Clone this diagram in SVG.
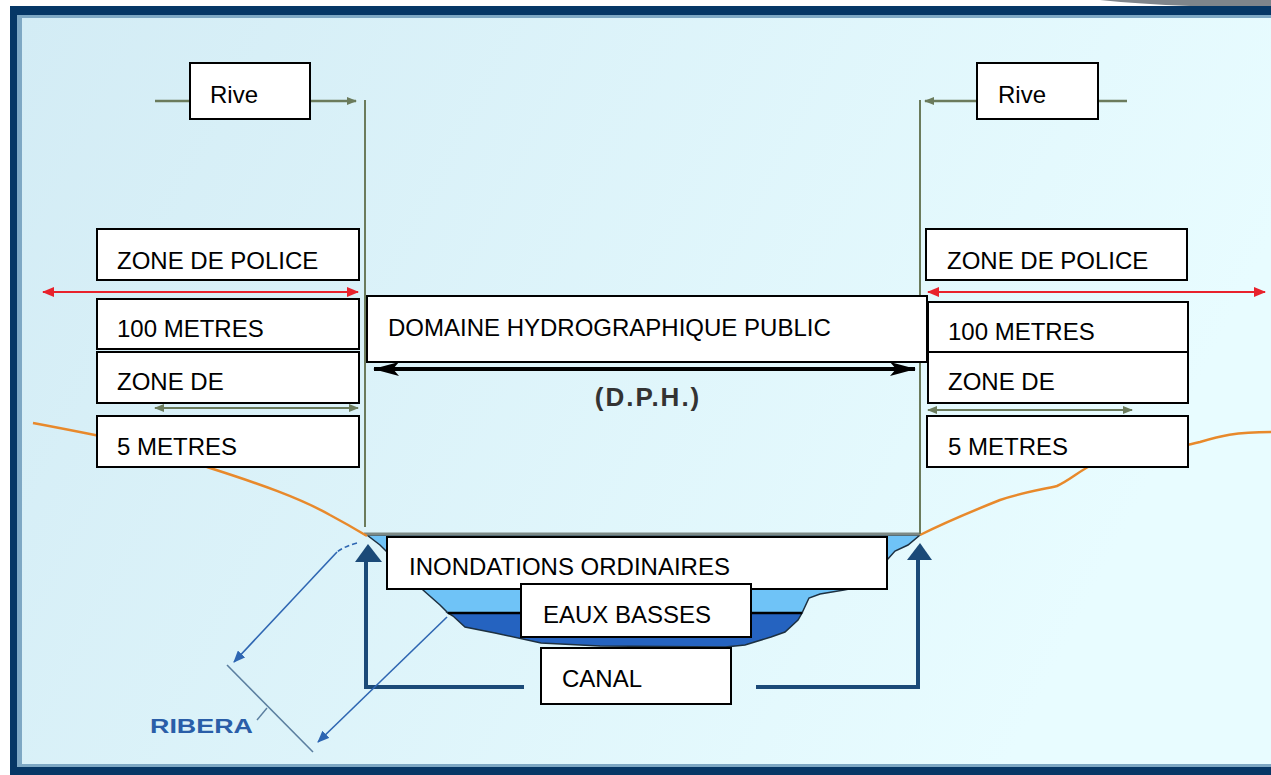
<svg xmlns="http://www.w3.org/2000/svg" width="1271" height="775" viewBox="0 0 1271 775">
<defs>
<linearGradient id="bg" x1="0" y1="0" x2="1" y2="0.3">
<stop offset="0" stop-color="#d3ecf5"/>
<stop offset="1" stop-color="#e8fcff"/>
</linearGradient>
<marker id="mRed" viewBox="0 0 12 10" refX="11" refY="5" markerWidth="12" markerHeight="10" markerUnits="userSpaceOnUse" orient="auto-start-reverse"><path d="M0,0 L12,5 L0,10 z" fill="#e8222c"/></marker>
<marker id="mOl" viewBox="0 0 10 8" refX="9" refY="4" markerWidth="10" markerHeight="8" markerUnits="userSpaceOnUse" orient="auto-start-reverse"><path d="M0,0 L10,4 L0,8 z" fill="#6b7b5c"/></marker>
<marker id="mBk" viewBox="0 0 26 14" refX="25" refY="7" markerWidth="26" markerHeight="14" markerUnits="userSpaceOnUse" orient="auto-start-reverse"><path d="M0,0 L26,7 L0,14 L6,7 z" fill="#000"/></marker>
<marker id="mBl" viewBox="0 0 12 10" refX="11" refY="5" markerWidth="12" markerHeight="10" markerUnits="userSpaceOnUse" orient="auto"><path d="M0,0 L12,5 L0,10 z" fill="#2e66b2"/></marker>
<style>
.box{fill:#fff;stroke:#000;stroke-width:2}
.lbl{font-family:"Liberation Sans",Arial,sans-serif;font-size:24px;fill:#000}
.ol{stroke:#6b7b5c;stroke-width:2.5;fill:none}
.red{stroke:#e8222c;stroke-width:2;fill:none}
.nv{stroke:#1b4a78;stroke-width:4;fill:none}
.bl{stroke:#2e66b2;stroke-width:1.6;fill:none}
.gr{stroke:#e8892b;stroke-width:2.5;fill:none;stroke-linejoin:round}
</style>
</defs>
<!-- frame -->
<rect x="0" y="0" width="1271" height="775" fill="#ffffff"/>
<path d="M1100,0 L1271,0 L1271,6 L1190,6 Q1140,4 1100,0 Z" fill="#7f858b"/>
<rect x="10" y="6" width="1261" height="769" fill="#063766"/>
<rect x="17" y="15" width="1254" height="752" fill="#7ea8c4"/>
<rect x="22" y="18" width="1249" height="746" fill="url(#bg)"/>

<!-- water -->
<g id="water">
<path d="M367,535 L920,535 L908,545 L895,551 L887,560 L870,585 L844,590 L820,594 L809,598 L802,613 L448,613 L440,605 L423,590 L400,565 L380,545 Z" fill="#6fc3f7" stroke="#1d3040" stroke-width="1.5"/>
<path d="M448,613 L802,613 L798,620 L785,632 L771,637 L745,645 L725,647 L600,646 L541,643 L495,633 L465,627 L453,616 Z" fill="#2563c0" stroke="#1d3040" stroke-width="1.5"/>
<line x1="448" y1="613" x2="802" y2="613" stroke="#000" stroke-width="2.5"/>
<line x1="364" y1="534" x2="921" y2="534" stroke="#7d8a86" stroke-width="3"/>
</g>

<!-- ground -->
<path class="gr" d="M33,423 C60,428 80,432 100,436 C150,447 180,458 210,468 C260,484 300,498 330,515 C345,523 357,530 367,536"/>
<path class="gr" d="M920,535 C950,520 975,510 1000,500 C1020,493 1040,490 1057,486 C1070,480 1078,472 1090,466 C1120,455 1160,452 1200,442 C1220,436 1235,432 1271,432"/>

<g id="connectors">
<polyline class="ol" points="155,101 190,101"/>
<line class="ol" x1="310" y1="101" x2="356" y2="101" marker-end="url(#mOl)"/>
<line x1="365" y1="100" x2="365" y2="527" stroke="#6b7b5c" stroke-width="2"/>
<line class="ol" x1="1098" y1="101" x2="1127" y2="101"/>
<line class="ol" x1="977" y1="101" x2="925" y2="101" marker-end="url(#mOl)"/>
<line x1="920" y1="100" x2="920" y2="534" stroke="#6b7b5c" stroke-width="2"/>
<line class="red" x1="43" y1="292" x2="358" y2="292" marker-start="url(#mRed)" marker-end="url(#mRed)"/>
<line class="red" x1="928" y1="292" x2="1265" y2="292" marker-start="url(#mRed)" marker-end="url(#mRed)"/>
<line x1="155" y1="408" x2="358" y2="408" stroke="#6b7b5c" stroke-width="2" marker-start="url(#mOl)" marker-end="url(#mOl)"/>
<line x1="928" y1="410" x2="1132" y2="410" stroke="#6b7b5c" stroke-width="2" marker-start="url(#mOl)" marker-end="url(#mOl)"/>
<line x1="374" y1="369" x2="915" y2="369" stroke="#000" stroke-width="4" marker-start="url(#mBk)" marker-end="url(#mBk)"/>
<polyline class="nv" points="524,687 366,687 366,552"/>
<polyline class="nv" points="756,687 918,687 918,552"/>
<path d="M368,544 L382,562 L355,562 Z" fill="#1b4a78"/>
<path d="M920,543 L932,560 L907,560 Z" fill="#1b4a78"/>
<path class="bl" d="M357,543 Q345,546 337,552" stroke-dasharray="5,3"/>
<line class="bl" x1="337" y1="552" x2="234" y2="662" marker-end="url(#mBl)"/>
<line class="bl" x1="447" y1="617" x2="318" y2="742" marker-end="url(#mBl)"/>
<line x1="227" y1="665" x2="313" y2="752" stroke="#5b7fa0" stroke-width="1.6"/>
<line x1="267" y1="708" x2="257" y2="720" stroke="#5b7fa0" stroke-width="1.4"/>
</g>
<text x="150" y="733" font-family="'Liberation Sans',Arial,sans-serif" font-weight="bold" font-size="21" fill="#2a5ea8" textLength="103" lengthAdjust="spacingAndGlyphs">RIBERA</text>
<text x="648" y="406" text-anchor="middle" font-family="'Liberation Sans',Arial,sans-serif" font-weight="bold" font-size="26" fill="#333" letter-spacing="2">(D.P.H.)</text>

<g id="rive-left"><rect class="box" x="190" y="63" width="120" height="56"/><text class="lbl" x="210" y="103">Rive</text></g>
<g id="rive-right"><rect class="box" x="977" y="63" width="121" height="56"/><text class="lbl" x="998" y="103">Rive</text></g>
<g id="police-left"><rect class="box" x="97" y="229" width="262" height="51"/><text class="lbl" x="117" y="269">ZONE DE POLICE</text></g>
<g id="m100-left"><rect class="box" x="97" y="299" width="262" height="50"/><text class="lbl" x="117" y="337">100 METRES</text></g>
<g id="zonede-left"><rect class="box" x="97" y="352" width="262" height="51"/><text class="lbl" x="117" y="390">ZONE DE</text></g>
<g id="m5-left"><rect class="box" x="97" y="416" width="262" height="51"/><text class="lbl" x="117" y="455">5 METRES</text></g>
<g id="police-right"><rect class="box" x="926" y="229" width="261" height="51"/><text class="lbl" x="947" y="269">ZONE DE POLICE</text></g>
<g id="m100-right"><rect class="box" x="928" y="302" width="260" height="50"/><text class="lbl" x="948" y="340">100 METRES</text></g>
<g id="zonede-right"><rect class="box" x="928" y="352" width="260" height="51"/><text class="lbl" x="948" y="390">ZONE DE</text></g>
<g id="m5-right"><rect class="box" x="927" y="416" width="261" height="51"/><text class="lbl" x="948" y="455">5 METRES</text></g>
<g id="dph"><rect class="box" x="367" y="296" width="560" height="66"/><text class="lbl" x="388" y="336">DOMAINE HYDROGRAPHIQUE PUBLIC</text></g>
<g id="inondations"><rect class="box" x="387" y="537" width="500" height="52"/><text class="lbl" x="409" y="575">INONDATIONS ORDINAIRES</text></g>
<g id="eaux"><rect class="box" x="521" y="584" width="230" height="53"/><text class="lbl" x="543" y="623">EAUX BASSES</text></g>
<g id="canal"><rect class="box" x="541" y="648" width="190" height="56"/><text class="lbl" x="562" y="687">CANAL</text></g>
</svg>
